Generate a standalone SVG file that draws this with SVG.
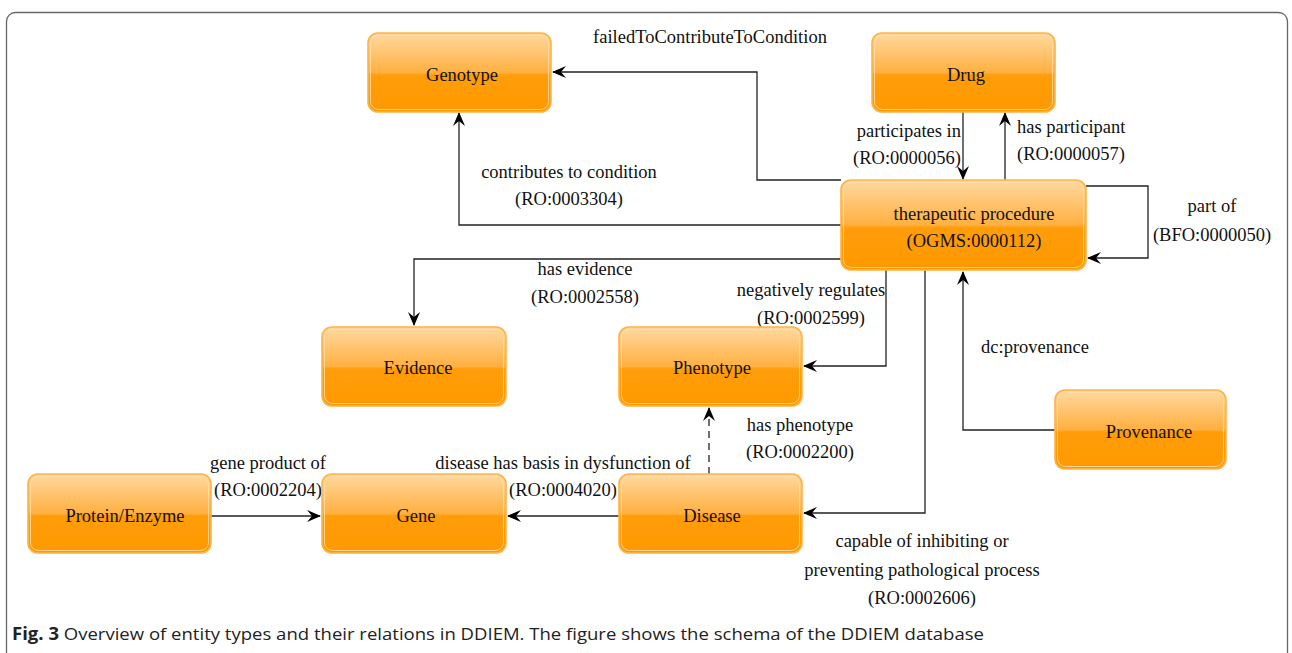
<svg xmlns="http://www.w3.org/2000/svg" width="1292" height="653" viewBox="0 0 1292 653">
<style>
.box{fill:url(#og);stroke:#ffb347;stroke-width:1.6}
.inner{fill:none;stroke:#ffe0b0;stroke-width:0.8}
.nt{font-family:"Liberation Serif",serif;font-size:18.5px;fill:#111;text-anchor:middle}
.lb{font-family:"Liberation Serif",serif;font-size:18.5px;fill:#111;text-anchor:middle}
.ln{fill:none;stroke:#222;stroke-width:1.3}
.cap{font-family:"Open Sans","Noto Sans",sans-serif;font-size:17px;fill:#222}
</style>
<defs>
<linearGradient id="og" x1="0" y1="0" x2="0" y2="1">
<stop offset="0" stop-color="#ffd9a0"/>
<stop offset="0.5" stop-color="#ffb040"/>
<stop offset="0.53" stop-color="#ff9d0a"/>
<stop offset="1" stop-color="#ff9900"/>
</linearGradient>
<marker id="ar" viewBox="0 0 14 12" markerWidth="14" markerHeight="12" refX="13" refY="6" orient="auto" markerUnits="userSpaceOnUse">
<path d="M0,0 L14,6 L0,12 L5,6 z" fill="#000"/>
</marker>
</defs>
<rect x="6.5" y="12.5" width="1281" height="700" rx="9" fill="none" stroke="#666" stroke-width="1.3"/>

<g id="connectors">
<path class="ln" d="M841,180 H757 V72 H553" marker-end="url(#ar)"/>
<path class="ln" d="M841,225 H459 V113" marker-end="url(#ar)"/>
<path class="ln" d="M963,112 V179" marker-end="url(#ar)"/>
<path class="ln" d="M1005,180 V113" marker-end="url(#ar)"/>
<path class="ln" d="M1086,186 H1148 V258 H1088" marker-end="url(#ar)"/>
<path class="ln" d="M841,259 H414 V325" marker-end="url(#ar)"/>
<path class="ln" d="M886,270 V366 H804" marker-end="url(#ar)"/>
<path class="ln" d="M925,270 V513 H804" marker-end="url(#ar)"/>
<path class="ln" d="M1055,430 H963 V272" marker-end="url(#ar)"/>
<path class="ln" d="M709,474 V408" stroke-dasharray="7,5" marker-end="url(#ar)"/>
<path class="ln" d="M619,516 H508" marker-end="url(#ar)"/>
<path class="ln" d="M211,516 H320" marker-end="url(#ar)"/>
<text class="lb" x="710" y="43">failedToContributeToCondition</text>
<text class="lb" x="569" y="178">contributes to condition</text>
<text class="lb" x="569" y="205">(RO:0003304)</text>
<text class="lb" x="961" y="137" style="text-anchor:end">participates in</text>
<text class="lb" x="961" y="164" style="text-anchor:end">(RO:0000056)</text>
<text class="lb" x="1017" y="133" style="text-anchor:start">has participant</text>
<text class="lb" x="1017" y="160" style="text-anchor:start">(RO:0000057)</text>
<text class="lb" x="1212" y="212">part of</text>
<text class="lb" x="1212" y="241">(BFO:0000050)</text>
<text class="lb" x="585" y="275">has evidence</text>
<text class="lb" x="585" y="303">(RO:0002558)</text>
<text class="lb" x="811" y="296">negatively regulates</text>
<text class="lb" x="811" y="324">(RO:0002599)</text>
<text class="lb" x="922" y="547">capable of inhibiting or</text>
<text class="lb" x="922" y="576">preventing pathological process</text>
<text class="lb" x="922" y="604">(RO:0002606)</text>
<text class="lb" x="1035" y="353">dc:provenance</text>
<text class="lb" x="800" y="431">has phenotype</text>
<text class="lb" x="800" y="458">(RO:0002200)</text>
<text class="lb" x="563" y="469">disease has basis in dysfunction of</text>
<text class="lb" x="563" y="496">(RO:0004020)</text>
<text class="lb" x="268" y="469">gene product of</text>
<text class="lb" x="268" y="496">(RO:0002204)</text>
</g>

<g id="genotype"><rect class="box" x="368" y="33" width="183" height="79" rx="10"/><rect class="inner" x="370.5" y="35.5" width="178" height="74" rx="8"/><text class="nt" x="462" y="81">Genotype</text></g>
<g id="drug"><rect class="box" x="872" y="33" width="183" height="79" rx="10"/><rect class="inner" x="874.5" y="35.5" width="178" height="74" rx="8"/><text class="nt" x="966" y="81">Drug</text></g>
<g id="therapeutic"><rect class="box" x="841" y="180" width="245" height="90" rx="10"/><rect class="inner" x="843.5" y="182.5" width="240" height="85" rx="8"/><text class="nt" x="974" y="220">therapeutic procedure</text><text class="nt" x="974" y="247">(OGMS:0000112)</text></g>
<g id="evidence"><rect class="box" x="322" y="327" width="184" height="79" rx="10"/><rect class="inner" x="324.5" y="329.5" width="179" height="74" rx="8"/><text class="nt" x="418" y="374">Evidence</text></g>
<g id="phenotype"><rect class="box" x="619" y="327" width="183" height="79" rx="10"/><rect class="inner" x="621.5" y="329.5" width="178" height="74" rx="8"/><text class="nt" x="712" y="374">Phenotype</text></g>
<g id="provenance"><rect class="box" x="1055" y="390" width="171" height="79" rx="10"/><rect class="inner" x="1057.5" y="392.5" width="166" height="74" rx="8"/><text class="nt" x="1149" y="438">Provenance</text></g>
<g id="protein"><rect class="box" x="28" y="474" width="183" height="79" rx="10"/><rect class="inner" x="30.5" y="476.5" width="178" height="74" rx="8"/><text class="nt" x="125" y="522">Protein/Enzyme</text></g>
<g id="gene"><rect class="box" x="322" y="474" width="184" height="79" rx="10"/><rect class="inner" x="324.5" y="476.5" width="179" height="74" rx="8"/><text class="nt" x="416" y="522">Gene</text></g>
<g id="disease"><rect class="box" x="619" y="474" width="183" height="79" rx="10"/><rect class="inner" x="621.5" y="476.5" width="178" height="74" rx="8"/><text class="nt" x="712" y="522">Disease</text></g>

<text class="cap" x="12" y="640" textLength="972" lengthAdjust="spacingAndGlyphs"><tspan font-weight="bold">Fig. 3</tspan> Overview of entity types and their relations in DDIEM. The figure shows the schema of the DDIEM database</text>
</svg>
